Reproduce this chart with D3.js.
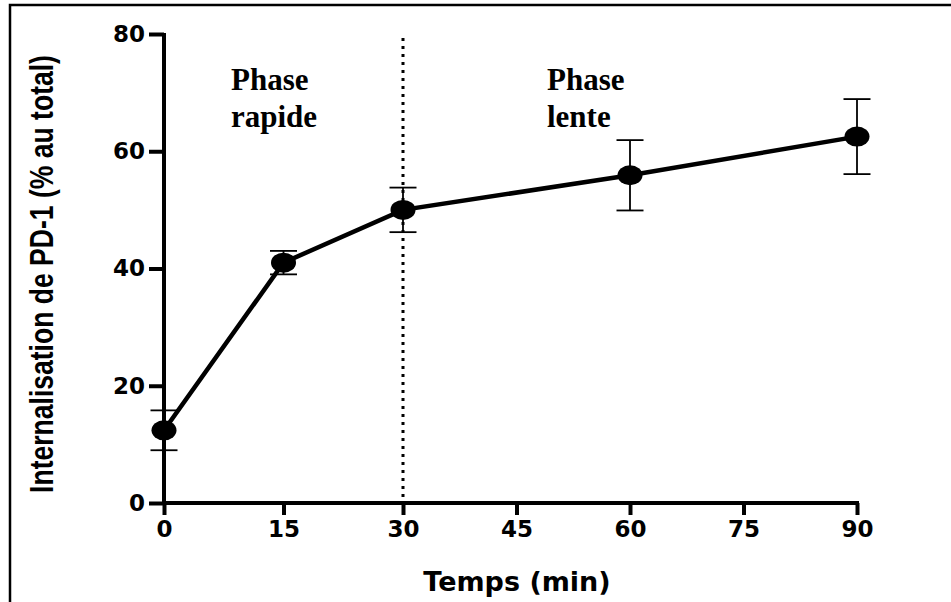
<!DOCTYPE html>
<html><head><meta charset="utf-8">
<script src="https://cdn.jsdelivr.net/npm/d3@7"></script>
<style>html,body{margin:0;padding:0;background:#fff;}svg{display:block;}</style>
</head><body>
<svg id="chart" width="951" height="602"></svg>
<script>
const times = [0, 15, 30, 60, 90];
const means = [12.4, 41.0, 50.0, 55.9, 62.5];
const errors = [3.4, 2.0, 3.8, 6.0, 6.4];
const xTicks = [0, 15, 30, 45, 60, 75, 90];
const yTicks = [0, 20, 40, 60, 80];
const phaseBoundary = 30;

const svg = d3.select("#chart");
const x = d3.scaleLinear().domain([0, 30, 90]).range([164, 403, 857]);
const y = d3.scaleLinear().domain([0, 80]).range([503, 34]);

// frame
svg.append("path").attr("d", "M10,602 V5 H951").attr("fill", "none").attr("stroke", "#000").attr("stroke-width", 2.5);

// axes
const xAxis = svg.append("g").attr("transform", `translate(0,${y(0)})`)
  .call(d3.axisBottom(x).tickValues(xTicks).tickSize(12).tickPadding(6).tickSizeOuter(0));
const yAxis = svg.append("g").attr("transform", `translate(${x(0)},0)`)
  .call(d3.axisLeft(y).tickValues(yTicks).tickSize(15).tickPadding(4).tickSizeOuter(0));
[xAxis, yAxis].forEach(g => {
  g.select(".domain").attr("stroke", "#000").attr("stroke-width", 4);
  g.selectAll(".tick line").attr("stroke", "#000").attr("stroke-width", 4);
  g.selectAll(".tick text").attr("fill", "#000").attr("font-family", "DejaVu Sans").attr("font-weight", "bold").attr("font-size", 23);
});
xAxis.select(".domain").attr("d", `M${x(0)-2},0H${x(90)+2}`);
yAxis.select(".domain").attr("d", `M0,${y(0)+2}V${y(80)-1}`);

// dotted boundary
svg.append("line").attr("x1", x(phaseBoundary)).attr("x2", x(phaseBoundary))
  .attr("y1", 38).attr("y2", y(0)).attr("stroke", "#000").attr("stroke-width", 3).attr("stroke-dasharray", "3,5");

const data = times.map((t, i) => ({t, m: means[i], e: errors[i]}));

// error bars
const eb = svg.append("g").attr("stroke", "#000").attr("stroke-width", 1.8);
data.forEach(d => {
  eb.append("line").attr("x1", x(d.t)).attr("x2", x(d.t)).attr("y1", y(d.m + d.e)).attr("y2", y(d.m - d.e));
  [d.m + d.e, d.m - d.e].forEach(v => eb.append("line").attr("x1", x(d.t) - 13.5).attr("x2", x(d.t) + 13.5).attr("y1", y(v)).attr("y2", y(v)));
});

// line
svg.append("path").datum(data)
  .attr("d", d3.line().x(d => x(d.t)).y(d => y(d.m)))
  .attr("fill", "none").attr("stroke", "#000").attr("stroke-width", 4.5);

// markers
svg.selectAll("ellipse.pt").data(data).enter().append("ellipse")
  .attr("cx", d => x(d.t)).attr("cy", d => y(d.m)).attr("rx", 12.5).attr("ry", 10).attr("fill", "#000");

// phase labels
const phase = [["Phase", "rapide", 231], ["Phase", "lente", 547]];
phase.forEach(([a, b, px]) => {
  const t = svg.append("text").attr("font-family", "Liberation Serif").attr("font-weight", "bold").attr("font-size", 31).attr("fill", "#000");
  t.append("tspan").attr("x", px).attr("y", 90).text(a);
  t.append("tspan").attr("x", px).attr("y", 127).text(b);
});

// axis titles
svg.append("text").attr("x", 517).attr("y", 591).attr("text-anchor", "middle")
  .attr("font-family", "DejaVu Sans").attr("font-weight", "bold").attr("font-size", 27).text("Temps (min)");
const yl = svg.append("text").attr("text-anchor", "middle")
  .attr("font-family", "Liberation Sans").attr("font-weight", "bold").attr("font-size", 33)
  .text("Internalisation de PD-1 (% au total)");
const natural = yl.node().getComputedTextLength();
yl.attr("transform", `translate(53,274) rotate(-90) scale(${438 / natural},1)`);
</script>
</body></html>
